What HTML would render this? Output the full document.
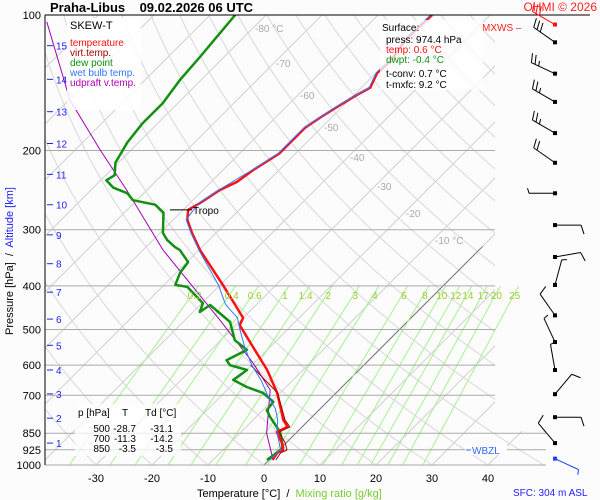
<!DOCTYPE html>
<html><head><meta charset="utf-8">
<style>
html,body{margin:0;padding:0;background:#fcfcfc;}
svg{display:block;font-family:"Liberation Sans",sans-serif;}
.pre{white-space:pre;}
</style></head>
<body>
<svg id="chart" width="600" height="500" viewBox="0 0 600 500" xmlns="http://www.w3.org/2000/svg">
<defs>
<clipPath id="gridClip"><polygon points="45,15 495,15 495,431 546,431 546,465 45,465"/></clipPath>
<clipPath id="plotClip"><rect x="45" y="15" width="501" height="450"/></clipPath>
</defs>
<rect x="0" y="0" width="600" height="500" fill="#fcfcfc"/>
<g id="grid" clip-path="url(#gridClip)"></g>
<g id="mix" clip-path="url(#plotClip)"></g>
<g id="isobars"></g>
<g id="series" clip-path="url(#plotClip)"></g>
<g id="axes"></g>
<g id="winds"></g>

<text x="50" y="12" font-size="13" font-weight="bold" fill="#000" class="pre">Praha-Libus    09.02.2026 06 UTC</text>
<text x="597" y="11" font-size="12" fill="#ff2020" text-anchor="end">OHMI © 2026</text>
<text x="482" y="31" font-size="10" fill="#ff2020">MXWS –</text>

<g>
<rect x="67" y="18" width="74" height="92" fill="#fff" opacity="0.85"/>
<text x="70" y="29" font-size="11" fill="#000">SKEW-T</text>
<text x="70" y="46" font-size="10" fill="#ff1010">temperature</text>
<text x="70" y="56" font-size="10" fill="#a00000">virt.temp.</text>
<text x="70" y="66" font-size="10" fill="#109010">dew point</text>
<text x="70" y="76" font-size="10" fill="#3377ff">wet bulb temp.</text>
<text x="70" y="86" font-size="10" fill="#b000b0">udpraft v.temp.</text>
</g>

<g>
<rect x="380" y="20" width="103" height="70" fill="#fff" opacity="0.75"/>
<text x="382" y="31" font-size="10" fill="#000">Surface:</text>
<text x="386" y="43" font-size="10" fill="#000">press: 974.4 hPa</text>
<text x="386" y="53" font-size="10" fill="#ff1010">temp: 0.6 °C</text>
<text x="386" y="63" font-size="10" fill="#109010">dwpt: -0.4 °C</text>
<text x="386" y="77" font-size="10" fill="#000">t-conv: 0.7 °C</text>
<text x="386" y="88" font-size="10" fill="#000">t-mxfc: 9.2 °C</text>
</g>

<g>
<rect x="75" y="404" width="106" height="52" fill="#fff" opacity="0.75"/>
<text x="78" y="416" font-size="10" fill="#000">p [hPa]</text>
<text x="122" y="416" font-size="10" fill="#000">T</text>
<text x="145" y="416" font-size="10" fill="#000">Td [°C]</text>
<text x="110" y="432" font-size="10" fill="#000" text-anchor="end">500</text>
<text x="110" y="442" font-size="10" fill="#000" text-anchor="end">700</text>
<text x="110" y="452" font-size="10" fill="#000" text-anchor="end">850</text>
<text x="136" y="432" font-size="10" fill="#000" text-anchor="end">-28.7</text>
<text x="136" y="442" font-size="10" fill="#000" text-anchor="end">-11.3</text>
<text x="136" y="452" font-size="10" fill="#000" text-anchor="end">-3.5</text>
<text x="173" y="432" font-size="10" fill="#000" text-anchor="end">-31.1</text>
<text x="173" y="442" font-size="10" fill="#000" text-anchor="end">-14.2</text>
<text x="173" y="452" font-size="10" fill="#000" text-anchor="end">-3.5</text>
</g>

<g>
<rect x="465" y="445" width="42" height="10" fill="#fff"/>
<line x1="466" y1="450" x2="471" y2="450" stroke="#3366ff" stroke-width="1"/>
<text x="472" y="454" font-size="10" fill="#3366ff">WBZL</text>
</g>

<text transform="translate(13,335) rotate(-90)" font-size="11" class="pre"><tspan fill="#000">Pressure [hPa]  /  </tspan><tspan fill="#2020ff">Altitude [km]</tspan></text>
<text x="197" y="497" font-size="11" class="pre"><tspan fill="#000">Temperature [°C]  /  </tspan><tspan fill="#77cc33">Mixing ratio [g/kg]</tspan></text>
<text x="513" y="496" font-size="10" fill="#2020ff">SFC: 304 m ASL</text>
</svg>

<script>
// ---- data ----
const pLevels = [100,200,300,400,500,600,700,850,925,1000];
const tempTicks = [-30,-20,-10,0,10,20,30,40];
const isoLabels = [-80,-70,-60,-50,-40,-30,-20,-10];
const altKm = [1,2,3,4,5,6,7,8,9,10,11,12,13,14,15];
const altP = [894,787,695,615,542,474,413,357,308,264,226,193,164,139,117];
const mixRatios = [0.2,0.4,0.6,1,1.4,2,3,4,6,8,10,12,14,17,20,25];

const tempP = [100,113.6,126,134.5,145,150.6,160,169,178,192,203,221,235,245,262,271,285,305,333,398,471,489,547,615,692,794,823,845,894,926,940,974];
const tempT = [-50.4,-50.7,-49.5,-49.8,-48.4,-49.5,-50.9,-52,-52.9,-52.9,-52.9,-54.6,-55.4,-57,-58.2,-59.1,-57.5,-54.3,-49.8,-39.5,-30,-29.3,-23,-16.4,-10.5,-4.6,-2.6,-3.6,-0.7,0.7,0.2,0.6];

const virtP = [600,692,794,823,845,894,926,940,974];
const virtT = [-20.2,-10.4,-4.3,-2.2,-3.2,-0.1,1.4,0.8,1.2];

const wetP = [100,113.6,126,134.5,145,160,178,203,221,245,262,285,305,333,398,440,471,500,547,600,650,700,750,794,845,894,926,974];
const wetT = [-50.6,-50.9,-49.8,-50,-48.6,-51.1,-53.1,-53.1,-54.8,-57.2,-58.4,-57.7,-54.5,-50,-40.3,-35.5,-31,-28.5,-24.5,-20,-15.5,-11.8,-8,-5.6,-3.6,-1.2,0.3,0.1];

const dewP = [100,109.6,124,139,157,174,192,213,227,233,242,249,258,264,275,305,316,328,333,354,374,398,402,437,457,441,481,528,555,585,600,615,647,671,692,724,755,782,845,917,974];
const dewT = [-85.5,-85,-84.3,-83.8,-82.7,-82.7,-82,-80.5,-78.4,-79,-76.4,-72.9,-70.7,-65.9,-63,-59.5,-57.5,-54.8,-53.4,-49.8,-49.3,-48,-45.5,-39.8,-38.8,-38.2,-31.6,-27.5,-23.6,-25.4,-23.9,-20,-20.7,-17,-13,-9.6,-9.3,-7.5,-3,0.4,-0.4];

const updP = [103.6,154.6,199.5,245,333,476,593,681,850,974];
const updT = [-117.9,-99.8,-85.5,-73.6,-56.4,-33.8,-20.2,-12.3,-5.2,0.7];

const windP = [105,115,135,156,183,213,249,293,345,398,465,533,615,696,783,894,968];
const windDir = [300,305,295,300,300,305,270,90,80,15,325,335,350,40,90,320,115];
const windSpd = [30,30,25,25,25,20,5,10,10,5,10,5,5,10,10,10,5];

// ---- axis functions ----
const X0=264, Y0=465, DX=5.6;
function yP(p){return 15+450*Math.log10(p/100);}
function xT(T,p){return X0+DX*T+(Y0-yP(p));}
const NS="http://www.w3.org/2000/svg";
function mk(tag,attrs,parent){const e=document.createElementNS(NS,tag);for(const k in attrs)e.setAttribute(k,attrs[k]);parent.appendChild(e);return e;}
function pathFrom(P,T){let d="";for(let i=0;i<P.length;i++){d+=(i?"L":"M")+xT(T[i],P[i]).toFixed(1)+","+yP(P[i]).toFixed(1);}return d;}

const grid=document.getElementById('grid');
for(let T=-170;T<=40;T+=10){
  const l=mk('line',{x1:xT(T,1000),y1:yP(1000),x2:xT(T,100),y2:yP(100),stroke:'#d0d0d0','stroke-width':1},grid);
  
  
}
for(let th=-40;th<=200;th+=10){
  let d="";
  for(let p=1000;p>=100;p-=10){const T=(th+273.15)*Math.pow(p/1000,0.2857)-273.15;d+=(p===1000?"M":"L")+xT(T,p).toFixed(1)+","+yP(p).toFixed(1);}
  const a=mk('path',{d:d,fill:'none',stroke:'#d8d8d8','stroke-width':1},grid);
  
  
}
const z=mk('line',{x1:xT(0,1000),y1:yP(1000),x2:xT(0,327),y2:yP(327),stroke:'#777','stroke-width':1},grid);



const isoG=document.getElementById('axes');
const isoYs=[28,63,95,127,157,186,213,240];
isoLabels.forEach((T,i)=>{
  const y=isoYs[i];
  const p=100*Math.pow(10,(y-15)/450);
  const t=mk('text',{x:xT(T,p)+2,y:y+4,'font-size':10,fill:'#aaa'},isoG);
  t.textContent=(T===-80||T===-10)?T+" °C":String(T);
  
  
});

const mix=document.getElementById('mix');
function tdFromW(w,p){const e=w*p/(622+w);const l=Math.log(e/6.112);return 243.5*l/(17.67-l);}
mixRatios.forEach(w=>{
  const m=mk('line',{x1:xT(tdFromW(w,1000),1000),y1:yP(1000),x2:xT(tdFromW(w,400),400),y2:yP(400),stroke:'#a8f090','stroke-width':1},mix);
  
  
  const t=mk('text',{x:xT(tdFromW(w,400),400)-4,y:299,'font-size':10,fill:'#99cc33','text-anchor':'middle'},document.getElementById('axes'));
  t.textContent=String(w);
  
  
});

const iso=document.getElementById('isobars');
pLevels.forEach(p=>{
  const y=yP(p);
  const l=mk('line',{x1:45,y1:y,x2:(p>=850?546:495),y2:y,stroke:'#aaa','stroke-width':1},iso);
  
  
  const t=mk('text',{x:41,y:y+4,'font-size':11,fill:'#000','text-anchor':'end'},iso);
  t.textContent=String(p);
  
  
});

const S=document.getElementById('series');
function series(P,T,col,w,name){const s=mk('path',{d:pathFrom(P,T),fill:'none',stroke:col,'stroke-width':w,'stroke-linejoin':'round'},S);}
series(updP,updT,'#a000b0',1,'updraft-line');
series(dewP,dewT,'#129012',2.5,'dewpoint-line');
series(tempP,tempT,'#ff1010',2.5,'temperature-line');
series(virtP,virtT,'#a00000',1,'virtual-temp-line');
series(wetP,wetT,'#3377ff',1,'wet-bulb-line');

const A=document.getElementById('axes');
const tr=mk('line',{x1:170,y1:yP(271),x2:192,y2:yP(271),stroke:'#000','stroke-width':1},A);


const trt=mk('text',{x:193,y:yP(271)+4,'font-size':10,fill:'#000'},A);
trt.textContent='Tropo';



const lb=mk('line',{x1:45,y1:15,x2:45,y2:465,stroke:'#000','stroke-width':1},A);


const tb=mk('line',{x1:45,y1:15,x2:590,y2:15,stroke:'#000','stroke-width':1},A);


tempTicks.forEach(T=>{
  const t=mk('text',{x:xT(T,1000),y:482,'font-size':11,fill:'#000','text-anchor':'middle'},A);
  t.textContent=String(T);
  
  
});
altKm.forEach((k,i)=>{
  const y=yP(altP[i]);
  const l=mk('line',{x1:47,y1:y,x2:53,y2:y,stroke:'#2020ff','stroke-width':1},A);
  
  
  const t=mk('text',{x:56,y:y+4,'font-size':10,fill:'#2020ff'},A);
  t.textContent=String(k);
  
  
});

const W=document.getElementById('winds');
windP.forEach((p,i)=>{
  const y=yP(p), x=555;
  const col=i===0?'#ff1010':(i===windP.length-1?'#2040ff':'#000');
  const a=windDir[i]*Math.PI/180;
  const ux=Math.sin(a), uy=-Math.cos(a);
  const L=26;
  const ex=x+ux*L, ey=y+uy*L;
  const g=mk('g',{},W);
  
  
  mk('line',{x1:x,y1:y,x2:ex,y2:ey,stroke:col,'stroke-width':1},g);
  mk('rect',{x:x-2,y:y-2,width:4,height:4,fill:col},g);
  const px=-uy, py=ux;
  let s=windSpd[i], k=0;
  while(s>=10){const bx=ex-ux*k*4, by=ey-uy*k*4;mk('line',{x1:bx,y1:by,x2:bx+px*9+ux*3,y2:by+py*9+uy*3,stroke:col,'stroke-width':1},g);s-=10;k++;}
  if(s>=5){const bx=ex-ux*k*4, by=ey-uy*k*4;mk('line',{x1:bx,y1:by,x2:bx+px*5+ux*1.5,y2:by+py*5+uy*1.5,stroke:col,'stroke-width':1},g);}
});
</script>
</body></html>
